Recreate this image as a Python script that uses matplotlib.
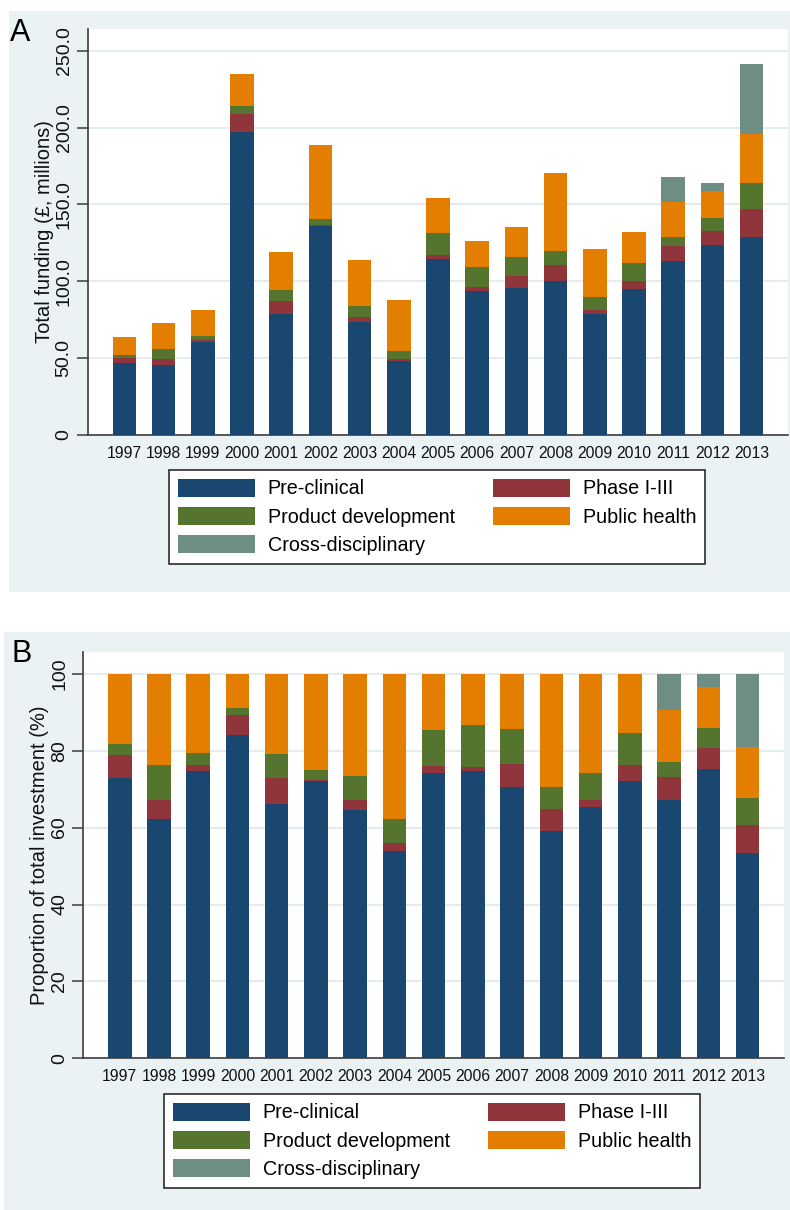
import numpy as np
import matplotlib
matplotlib.use("Agg")
import matplotlib.pyplot as plt
from matplotlib.patches import Rectangle

plt.rcParams["font.family"] = ["Liberation Sans", "DejaVu Sans"]

YEARS = list(range(1997, 2014))
CATEGORIES = [
    "Pre-clinical",
    "Phase I-III",
    "Product development",
    "Public health",
    "Cross-disciplinary",
]
COLORS = ["#1A476F", "#90353B", "#55752F", "#E37E00", "#6E8E84"]

# Funding per research stage (GBP millions)
PRECLINICAL_GBP = [46.6, 45.3, 60.7, 196.9, 78.9, 135.9, 73.7, 48.1, 114.3,
                   93.9, 95.8, 100.2, 78.9, 95.2, 113.0, 123.6, 128.8]
PHASE_GBP = [3.3, 4.1, 1.3, 12.1, 8.0, 0.7, 3.1, 1.3, 2.8,
             2.2, 7.6, 10.2, 2.4, 5.0, 9.9, 9.1, 18.2]
PRODUCT_DEV_GBP = [2.1, 6.3, 2.4, 5.0, 7.2, 3.9, 6.9, 5.2, 14.3,
                   13.2, 12.6, 9.5, 8.5, 11.5, 5.9, 8.2, 16.7]
PUBLIC_HEALTH_GBP = [11.7, 17.2, 17.1, 20.6, 24.7, 47.9, 30.1, 33.2, 22.8,
                     17.1, 19.3, 50.3, 31.0, 20.1, 22.5, 18.2, 32.1]
CROSS_DISC_GBP = [0, 0, 0, 0, 0, 0, 0, 0, 0,
                  0, 0, 0, 0, 0, 16.3, 5.0, 45.5]

# Share of total investment per research stage (%)
PRECLINICAL_PCT = [73.0, 62.2, 74.7, 84.1, 66.2, 72.2, 64.6, 53.9, 74.1,
                   74.6, 70.5, 59.1, 65.3, 72.2, 67.3, 75.2, 53.4]
PHASE_PCT = [5.8, 5.1, 1.5, 5.1, 6.8, 0.3, 2.7, 2.1, 1.9,
             1.2, 6.0, 5.7, 2.0, 4.1, 5.9, 5.5, 7.3]
PRODUCT_DEV_PCT = [3.0, 8.9, 3.1, 2.0, 6.1, 2.5, 6.1, 6.2, 9.4,
                   10.8, 9.2, 5.7, 7.0, 8.2, 3.8, 5.2, 6.9]
PUBLIC_HEALTH_PCT = [18.2, 23.8, 20.7, 8.8, 20.9, 25.0, 26.6, 37.8, 14.6,
                     13.4, 14.3, 29.5, 25.7, 15.5, 13.6, 10.6, 13.3]
CROSS_DISC_PCT = [0, 0, 0, 0, 0, 0, 0, 0, 0,
                  0, 0, 0, 0, 0, 9.4, 3.5, 19.1]

A_TICKS = [0, 50, 100, 150, 200, 250]
A_TICK_LABELS = ["0", "50.0", "100.0", "150.0", "200.0", "250.0"]
B_TICKS = [0, 20, 40, 60, 80, 100]
B_TICK_LABELS = ["0", "20", "40", "60", "80", "100"]

W, H = 790, 1210
BG = "#EAF2F3"
GRID = "#E2EBEE"
AXIS_COLOR = "#3C3C3C"


def px_box(x0, y0, x1, y1):
    # pixel box (top-left origin) -> figure fraction [left, bottom, width, height]
    return [x0 / W, 1 - y1 / H, (x1 - x0) / W, (y1 - y0) / H]


def draw_panel(fig, box, series, ylim, ticks, tick_labels, ylabel, label_x):
    ax = fig.add_axes(box)
    ax.set_facecolor("white")
    bottom = np.zeros(len(YEARS))
    handles = []
    for values, name, color in zip(series, CATEGORIES, COLORS):
        vals = np.array(values, dtype=float)
        bars = ax.bar(YEARS, vals, width=0.6, bottom=bottom, color=color,
                      edgecolor="none", label=name, zorder=3)
        handles.append(bars)
        bottom += vals

    ax.set_xlim(1996.07, 2013.93)
    ax.set_ylim(*ylim)
    ax.set_xticks(YEARS)
    ax.set_xticklabels([str(y) for y in YEARS], fontsize=11.3)
    ax.tick_params(axis="x", length=0, pad=8, colors="#111111")
    ax.set_yticks(ticks)
    ax.set_yticklabels(tick_labels, rotation=90, va="center", fontsize=14)
    ax.tick_params(axis="y", length=8, width=1.1, pad=3, color=AXIS_COLOR,
                   labelcolor="#111111")
    ax.grid(axis="y", color=GRID, linewidth=1.3, zorder=0)
    ax.set_axisbelow(True)
    for side in ("top", "right"):
        ax.spines[side].set_visible(False)
    for side in ("left", "bottom"):
        ax.spines[side].set_color(AXIS_COLOR)
        ax.spines[side].set_linewidth(1.2)
    ax.set_ylabel(ylabel, fontsize=14.5, color="#111111")
    ax.yaxis.set_label_coords(label_x, 0.5)
    return ax, handles


def add_legend(fig, handles, x0, y0):
    # two columns: stage order reads across rows
    order = [0, 2, 4, 1, 3]
    leg = fig.legend(
        [handles[i] for i in order],
        [CATEGORIES[i] for i in order],
        ncol=2,
        loc="upper left",
        bbox_to_anchor=(x0 / W, 1 - y0 / H),
        fontsize=14.2,
        frameon=True,
        fancybox=False,
        framealpha=1,
        edgecolor="#1A1A1A",
        handlelength=3.9,
        handleheight=1.0,
        handletextpad=0.65,
        columnspacing=1.95,
        labelspacing=0.44,
        borderpad=0.45,
        borderaxespad=0,
    )
    leg.get_frame().set_linewidth(1.1)
    return leg


def main():
    fig = plt.figure(figsize=(W / 100, H / 100), dpi=100)
    fig.patch.set_facecolor("white")

    # panel backgrounds
    for x0, y0, x1, y1 in [(9, 11, 790, 592), (4, 632, 790, 1210)]:
        b = px_box(x0, y0, x1, y1)
        fig.add_artist(Rectangle((b[0], b[1]), b[2], b[3], transform=fig.transFigure,
                                 facecolor=BG, edgecolor="none", zorder=0))

    series_a = [PRECLINICAL_GBP, PHASE_GBP, PRODUCT_DEV_GBP, PUBLIC_HEALTH_GBP, CROSS_DISC_GBP]
    series_b = [PRECLINICAL_PCT, PHASE_PCT, PRODUCT_DEV_PCT, PUBLIC_HEALTH_PCT, CROSS_DISC_PCT]

    ax_a, handles_a = draw_panel(fig, px_box(88, 29, 788, 435), series_a, (0, 264.2),
                                 A_TICKS, A_TICK_LABELS,
                                 "Total funding (\u00a3, millions)", -0.048)
    ax_b, handles_b = draw_panel(fig, px_box(83.3, 652.3, 784, 1058.3), series_b, (0, 105.6),
                                 B_TICKS, B_TICK_LABELS,
                                 "Proportion of total investment (%)", -0.049)

    add_legend(fig, handles_a, 169, 470)
    add_legend(fig, handles_b, 164, 1094)

    fig.text(10 / W, 1 - 41 / H, "A", fontsize=22, va="baseline", ha="left")
    fig.text(11 / W, 1 - 662 / H, "B", fontsize=22, va="baseline", ha="left")

    fig.savefig("out.png", dpi=100, facecolor=fig.get_facecolor())
    plt.close(fig)


if __name__ == "__main__":
    main()
